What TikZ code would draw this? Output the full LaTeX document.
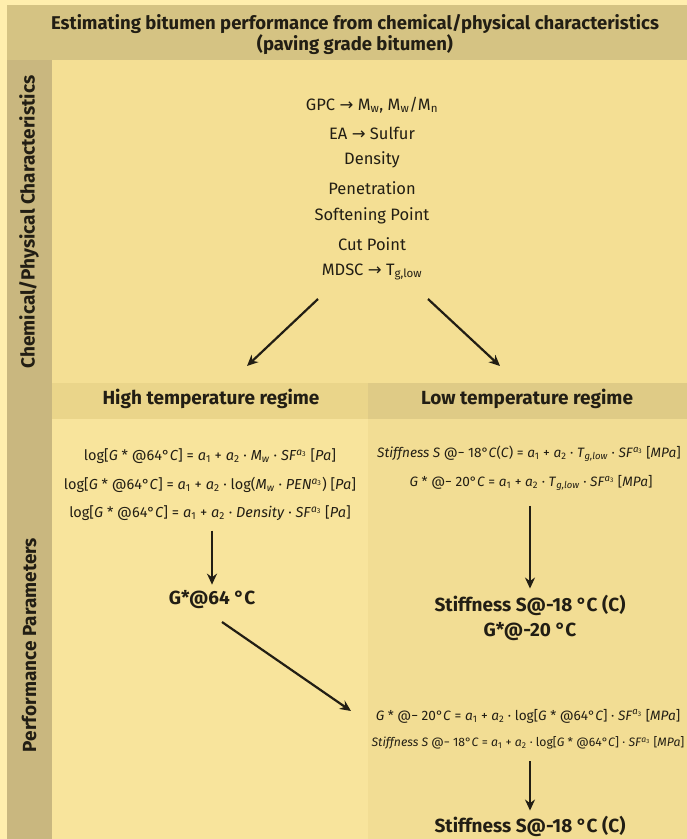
\documentclass[tikz,border=0pt]{standalone}
\usepackage{fontspec}
\setmainfont{Fira Sans}
\newfontfamily\arrfont{DejaVu Sans}
\usetikzlibrary{arrows.meta}
\definecolor{bgc}{HTML}{FFEEAD}
\definecolor{titlec}{HTML}{D5C383}
\definecolor{sidec}{HTML}{C9B77F}
\definecolor{chemc}{HTML}{F4DF94}
\definecolor{hdrl}{HTML}{EAD58A}
\definecolor{hdrr}{HTML}{DFCB86}
\definecolor{bodyl}{HTML}{F8E49C}
\definecolor{bodyr}{HTML}{F2DD94}
\definecolor{ink}{HTML}{221E14}
\newcommand{\iv}[1]{\textit{#1}}
\newcommand{\rarr}{{\arrfont\char"2192}}
\newcommand{\athree}{\textsuperscript{\iv{a}\textsubscript{3}}}
\begin{document}
\begin{tikzpicture}[x=1pt,y=-1pt,
  chem/.style={font=\fontsize{16.5}{19}\selectfont, text=ink, inner sep=0pt},
  formula/.style={font=\fontsize{14.5}{17}\selectfont, text=ink, inner sep=0pt},
  formular/.style={font=\fontsize{13.6}{16}\selectfont, text=ink, inner sep=0pt},
  formulas/.style={font=\fontsize{12.2}{15}\selectfont, text=ink, inner sep=0pt},
  hdr/.style={font=\fontsize{19}{22}\selectfont\bfseries, text=ink, inner sep=0pt},
  result/.style={font=\fontsize{19}{22}\selectfont\bfseries, text=ink, inner sep=0pt},
  side/.style={font=\fontsize{19}{22}\selectfont\bfseries, text=ink, inner sep=0pt, rotate=90},
  bigarrow/.style={draw=ink, line width=2.2pt, -{Stealth[length=11pt,width=10pt]}}]
\useasboundingbox (0,0) rectangle (687,839);
\fill[bgc] (0,0) rectangle (687,839);
\fill[titlec] (7,5) rectangle (687,60);
\fill[sidec] (7,60) rectangle (52,839);
\fill[chemc] (52,60) rectangle (687,383);
\fill[hdrl] (52,383) rectangle (368,419);
\fill[hdrr] (368,383) rectangle (687,419);
\fill[bodyl] (52,419) rectangle (368,839);
\fill[bodyr] (368,419) rectangle (687,839);
% title
\node[font=\fontsize{18.5}{21}\selectfont\bfseries, text=ink, align=center, inner sep=0pt] (title) at (355,35)
  {Estimating bitumen performance from chemical/physical characteristics\\(paving grade bitumen)};
% side labels
\node[side] (sidechem) at (29,222) {Chemical/Physical Characteristics};
\node[side] (sideperf) at (29,645) {Performance Parameters};
% chem list
\node[chem] (gpc) at (372,105) {GPC \rarr{} M\textsubscript{w}, M\textsubscript{w}/M\textsubscript{n}};
\node[chem] (ea) at (372,133) {EA \rarr{} Sulfur};
\node[chem] (dens) at (372,160) {Density};
\node[chem] (pen) at (372,188) {Penetration};
\node[chem] (soft) at (372,216) {Softening Point};
\node[chem] (cut) at (372,244) {Cut Point};
\node[chem] (mdsc) at (372,272) {MDSC \rarr{} T\textsubscript{g,low}};
% headers
\node[hdr] (high) at (211,399) {High temperature regime};
\node[hdr] (low) at (527,399) {Low temperature regime};
\coordinate (la) at (318,299);
\coordinate (lb) at (247,366);
\coordinate (ra) at (428,299);
\coordinate (rb) at (500,366);
\draw[bigarrow] (la) -- (lb);
\draw[bigarrow] (ra) -- (rb);
% left formulas
\node[formula] (lf1) at (210,456) {log[\iv{G} * @64°\iv{C}] = \iv{a}\textsubscript{1} + \iv{a}\textsubscript{2} · \iv{M}\textsubscript{\iv{w}} · \iv{SF}\athree{} [\iv{Pa}]};
\node[formula] (lf2) at (210,485) {log[\iv{G} * @64°\iv{C}] = \iv{a}\textsubscript{1} + \iv{a}\textsubscript{2} · log(\iv{M}\textsubscript{\iv{w}} · \iv{PEN}\athree) [\iv{Pa}]};
\node[formula] (lf3) at (210,513) {log[\iv{G} * @64°\iv{C}] = \iv{a}\textsubscript{1} + \iv{a}\textsubscript{2} · \iv{Density} · \iv{SF}\athree{} [\iv{Pa}]};
\node[result] (g64) at (212,600) {G*@64 °C};
\coordinate (lda) at (lf3.south -| g64);
\draw[bigarrow] ([yshift=-10pt]lda) -- ([yshift=6pt]g64.north);
% right formulas
\node[formular] (rf1) at (529,454) {\iv{Stiffness S} @− 18°\iv{C}(\iv{C}) = \iv{a}\textsubscript{1} + \iv{a}\textsubscript{2} · \iv{T}\textsubscript{\iv{g,low}} · \iv{SF}\athree{} [\iv{MPa}]};
\node[formular] (rf2) at (531,483) {\iv{G} * @− 20°\iv{C} = \iv{a}\textsubscript{1} + \iv{a}\textsubscript{2} · \iv{T}\textsubscript{\iv{g,low}} · \iv{SF}\athree{} [\iv{MPa}]};
\node[result] (s18) at (530,605) {Stiffness S@-18 °C (C)};
\node[result] (g20) at (530,632) {G*@-20 °C};
\draw[bigarrow] ([yshift=-15pt]rf2.south -| s18) -- ([yshift=6pt]s18.north);
% lower right formulas
\node[formular] (rf3) at (528,716) {\iv{G} * @− 20°\iv{C} = \iv{a}\textsubscript{1} + \iv{a}\textsubscript{2} · log[\iv{G} * @64°\iv{C}] · \iv{SF}\athree{} [\iv{MPa}]};
\node[formulas] (rf4) at (528,743) {\iv{Stiffness S} @− 18°\iv{C} = \iv{a}\textsubscript{1} + \iv{a}\textsubscript{2} · log[\iv{G} * @64°\iv{C}] · \iv{SF}\athree{} [\iv{MPa}]};
\coordinate (dga) at (222,622);
\coordinate (dgb) at (351,711);
\draw[bigarrow] (dga) -- (dgb);
\node[result] (s18b) at (530,826) {Stiffness S@-18 °C (C)};
\draw[bigarrow] ([yshift=-12pt]rf4.south -| s18b) -- ([yshift=5pt]s18b.north);
\end{tikzpicture}
\end{document}
